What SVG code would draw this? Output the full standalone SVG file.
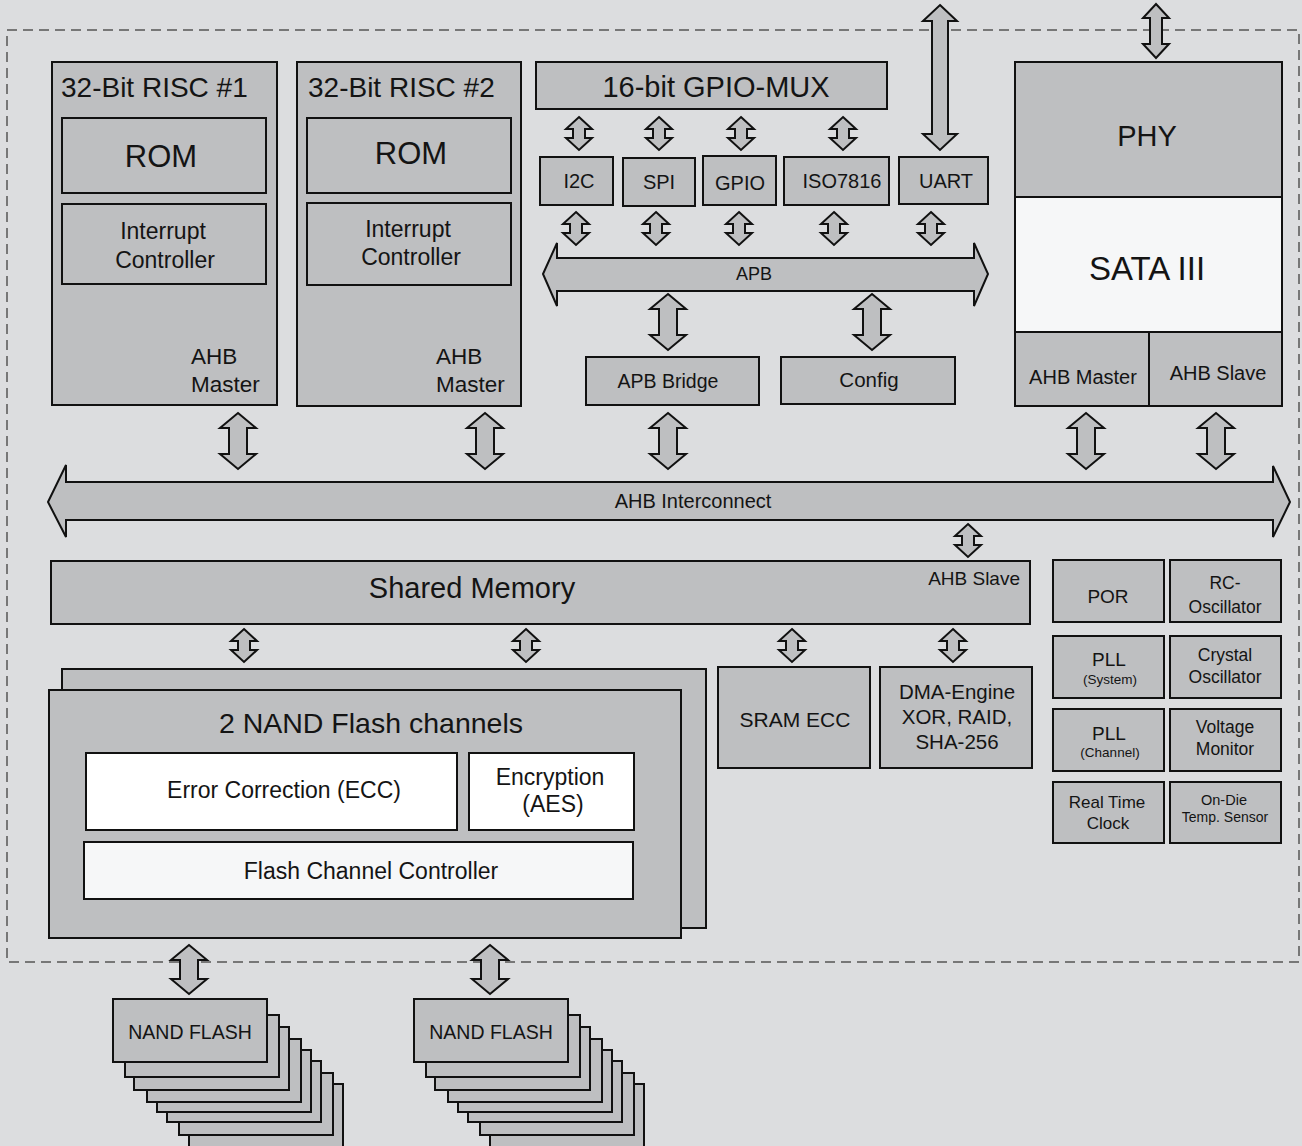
<svg xmlns="http://www.w3.org/2000/svg" width="1302" height="1146" viewBox="0 0 1302 1146">
<style>
.bg{fill:#dcdddf}
.b{fill:#bebfc1;stroke:#111;stroke-width:2}
.w{fill:#ffffff;stroke:#111;stroke-width:2}
.lw{fill:#f6f7f8;stroke:#111;stroke-width:2}
.ar{fill:#bebfc1;stroke:#111;stroke-width:2;stroke-linejoin:miter}
.dash{fill:none;stroke:#555;stroke-width:1.5;stroke-dasharray:10 6}
text{font-family:"Liberation Sans",Arial,sans-serif;fill:#141414}
.c{text-anchor:middle}
</style>
<rect class="bg" x="0" y="0" width="1302" height="1146"/>
<rect class="dash" x="7" y="30" width="1292" height="932"/>

<g id="risc1">
<rect class="b" x="52" y="62" width="225" height="343"/>
<text x="61" y="97" font-size="28">32-Bit RISC #1</text>
<rect class="b" x="62" y="118" width="204" height="75"/>
<text class="c" x="161" y="167" font-size="31">ROM</text>
<rect class="b" x="62" y="204" width="204" height="80"/>
<text class="c" x="163" y="239" font-size="23">Interrupt</text>
<text class="c" x="165" y="268" font-size="23">Controller</text>
<text x="191" y="364" font-size="22.5">AHB</text>
<text x="191" y="392" font-size="22.5">Master</text>
</g>

<g id="risc2">
<rect class="b" x="297" y="62" width="224" height="344"/>
<text x="308" y="97" font-size="28">32-Bit RISC #2</text>
<rect class="b" x="307" y="118" width="204" height="75"/>
<text class="c" x="411" y="164" font-size="31">ROM</text>
<rect class="b" x="307" y="203" width="204" height="82"/>
<text class="c" x="408" y="237" font-size="23">Interrupt</text>
<text class="c" x="411" y="265" font-size="23">Controller</text>
<text x="436" y="364" font-size="22.5">AHB</text>
<text x="436" y="392" font-size="22.5">Master</text>
</g>

<g id="gpiomux">
<rect class="b" x="536" y="62" width="351" height="47"/>
<text class="c" x="716" y="97" font-size="29">16-bit GPIO-MUX</text>
</g>

<g id="i2c"><rect class="b" x="540" y="157" width="73" height="48"/><text class="c" x="579" y="188" font-size="20">I2C</text></g>
<g id="spi"><rect class="b" x="623" y="158" width="72" height="48"/><text class="c" x="659" y="189" font-size="20">SPI</text></g>
<g id="gpio"><rect class="b" x="703" y="156" width="73" height="49"/><text class="c" x="740" y="190" font-size="20">GPIO</text></g>
<g id="iso7816"><rect class="b" x="784" y="157" width="105" height="48"/><text class="c" x="842" y="188" font-size="20">ISO7816</text></g>
<g id="uart"><rect class="b" x="899" y="157" width="89" height="47"/><text class="c" x="946" y="188" font-size="20">UART</text></g>

<g id="apbbridge"><rect class="b" x="586" y="357" width="173" height="48"/><text class="c" x="668" y="388" font-size="19.5">APB Bridge</text></g>
<g id="config"><rect class="b" x="781" y="357" width="174" height="47"/><text class="c" x="869" y="387" font-size="20.5">Config</text></g>

<g id="sata">
<rect class="b" x="1015" y="62" width="267" height="135"/>
<text class="c" x="1147" y="146" font-size="29">PHY</text>
<rect class="lw" x="1015" y="197" width="267" height="135"/>
<text class="c" x="1147" y="280" font-size="33">SATA III</text>
<rect class="b" x="1015" y="332" width="134" height="74"/>
<rect class="b" x="1149" y="332" width="133" height="74"/>
<text class="c" x="1083" y="384" font-size="20">AHB Master</text>
<text class="c" x="1218" y="380" font-size="20">AHB Slave</text>
</g>

<g id="sharedmem">
<rect class="b" x="51" y="561" width="979" height="63"/>
<text class="c" x="472" y="598" font-size="29">Shared Memory</text>
<text x="1020" y="585" font-size="19" text-anchor="end">AHB Slave</text>
</g>

<g id="nandchannels">
<rect class="b" x="62" y="669" width="644" height="259"/>
<rect class="b" x="49" y="690" width="632" height="248"/>
<text class="c" x="371" y="733" font-size="28.5">2 NAND Flash channels</text>
<rect class="w" x="86" y="753" width="371" height="77"/>
<text class="c" x="284" y="798" font-size="23">Error Correction (ECC)</text>
<rect class="w" x="469" y="753" width="165" height="77"/>
<text class="c" x="550" y="785" font-size="23">Encryption</text>
<text class="c" x="553" y="812" font-size="23">(AES)</text>
<rect class="lw" x="84" y="842" width="549" height="57"/>
<text class="c" x="371" y="879" font-size="23">Flash Channel Controller</text>
</g>

<g id="sramecc"><rect class="b" x="718" y="667" width="152" height="101"/><text class="c" x="795" y="727" font-size="21">SRAM ECC</text></g>
<g id="dma">
<rect class="b" x="880" y="667" width="152" height="101"/>
<text class="c" x="957" y="699" font-size="20.5">DMA-Engine</text>
<text class="c" x="957" y="724" font-size="20.5">XOR, RAID,</text>
<text class="c" x="957" y="749" font-size="20.5">SHA-256</text>
</g>

<g id="por"><rect class="b" x="1053" y="560" width="111" height="62"/><text class="c" x="1108" y="603" font-size="19">POR</text></g>
<g id="rcosc"><rect class="b" x="1170" y="560" width="111" height="62"/><text class="c" x="1225" y="589" font-size="17.5">RC-</text><text class="c" x="1225" y="613" font-size="17.5">Oscillator</text></g>
<g id="pllsys"><rect class="b" x="1053" y="636" width="111" height="62"/><text class="c" x="1109" y="666" font-size="19">PLL</text><text class="c" x="1110" y="684" font-size="13.5">(System)</text></g>
<g id="xosc"><rect class="b" x="1170" y="636" width="111" height="62"/><text class="c" x="1225" y="661" font-size="17.5">Crystal</text><text class="c" x="1225" y="683" font-size="17.5">Oscillator</text></g>
<g id="pllch"><rect class="b" x="1053" y="709" width="111" height="62"/><text class="c" x="1109" y="740" font-size="19">PLL</text><text class="c" x="1110" y="757" font-size="13.5">(Channel)</text></g>
<g id="vmon"><rect class="b" x="1170" y="709" width="111" height="62"/><text class="c" x="1225" y="733" font-size="17.5">Voltage</text><text class="c" x="1225" y="755" font-size="17.5">Monitor</text></g>
<g id="rtc"><rect class="b" x="1053" y="782" width="111" height="61"/><text class="c" x="1107" y="808" font-size="17">Real Time</text><text class="c" x="1108" y="829" font-size="17">Clock</text></g>
<g id="tempsensor"><rect class="b" x="1170" y="782" width="111" height="61"/><text class="c" x="1224" y="805" font-size="14.5">On-Die</text><text class="c" x="1225" y="822" font-size="14">Temp. Sensor</text></g>

<g id="nandflash1">
<rect class="b" x="189" y="1084" width="154" height="63"/>
<rect class="b" x="179" y="1073" width="154" height="62"/>
<rect class="b" x="167" y="1061" width="154" height="61"/>
<rect class="b" x="157" y="1050" width="154" height="62"/>
<rect class="b" x="147" y="1039" width="154" height="63"/>
<rect class="b" x="134" y="1027" width="155" height="63"/>
<rect class="b" x="125" y="1015" width="154" height="62"/>
<rect class="b" x="113" y="999" width="154" height="63"/>
<text class="c" x="190" y="1039" font-size="19.5">NAND FLASH</text>
</g>
<g id="nandflash2">
<rect class="b" x="490" y="1084" width="154" height="63"/>
<rect class="b" x="480" y="1073" width="154" height="62"/>
<rect class="b" x="468" y="1061" width="154" height="61"/>
<rect class="b" x="458" y="1050" width="154" height="62"/>
<rect class="b" x="448" y="1039" width="154" height="63"/>
<rect class="b" x="435" y="1027" width="155" height="63"/>
<rect class="b" x="426" y="1015" width="154" height="62"/>
<rect class="b" x="414" y="999" width="154" height="63"/>
<text class="c" x="491" y="1039" font-size="19.5">NAND FLASH</text>
</g>

<g id="connectors">
<!-- buses -->
<polygon class="ar" points="543,274 557,243 557,258 974,258 974,243 988,274 974,306 974,291 557,291 557,306"/>
<text class="c" x="754" y="280" font-size="18">APB</text>
<polygon class="ar" points="48,502 66,465 66,482 1273,482 1273,466 1290,502 1273,537 1273,520 66,520 66,537"/>
<text class="c" x="693" y="508" font-size="20">AHB Interconnect</text>
<!-- UART long arrow -->
<polygon class="ar" points="940,5 957,21 948,21 948,134 957,134 940,150 923,134 932,134 932,21 923,21"/>
<!-- small arrows: GPIO-MUX to peripherals -->
<polygon class="ar" points="579,117 592,129 585,129 585,138 592,138 579,150 566,138 573,138 573,129 566,129"/>
<polygon class="ar" points="659,117 672,129 665,129 665,138 672,138 659,150 646,138 653,138 653,129 646,129"/>
<polygon class="ar" points="741,117 754,129 747,129 747,138 754,138 741,150 728,138 735,138 735,129 728,129"/>
<polygon class="ar" points="843,117 856,129 849,129 849,138 856,138 843,150 830,138 837,138 837,129 830,129"/>
<!-- small arrows: peripherals to APB -->
<polygon class="ar" points="576,212 589,224 582,224 582,233 589,233 576,245 563,233 570,233 570,224 563,224"/>
<polygon class="ar" points="656,212 669,224 662,224 662,233 669,233 656,245 643,233 650,233 650,224 643,224"/>
<polygon class="ar" points="739,212 752,224 745,224 745,233 752,233 739,245 726,233 733,233 733,224 726,224"/>
<polygon class="ar" points="834,212 847,224 840,224 840,233 847,233 834,245 821,233 828,233 828,224 821,224"/>
<polygon class="ar" points="931,212 944,224 937,224 937,233 944,233 931,245 918,233 925,233 925,224 918,224"/>
<!-- PHY top -->
<polygon class="ar" points="1156,4 1169,18 1162,18 1162,44 1169,44 1156,58 1143,44 1150,44 1150,18 1143,18"/>
<!-- interconnect to shared memory -->
<polygon class="ar" points="968,524 981,536 974,536 974,545 981,545 968,557 955,545 962,545 962,536 955,536"/>
<!-- shared memory down -->
<polygon class="ar" points="244,629 257,641 250,641 250,650 257,650 244,662 231,650 238,650 238,641 231,641"/>
<polygon class="ar" points="526,629 539,641 532,641 532,650 539,650 526,662 513,650 520,650 520,641 513,641"/>
<polygon class="ar" points="792,629 805,641 798,641 798,650 805,650 792,662 779,650 786,650 786,641 779,641"/>
<polygon class="ar" points="953,629 966,641 959,641 959,650 966,650 953,662 940,650 947,650 947,641 940,641"/>
<!-- large arrows -->
<polygon class="ar" points="238,413 256,428 247,428 247,454 256,454 238,469 220,454 229,454 229,428 220,428"/>
<polygon class="ar" points="485,413 503,428 494,428 494,454 503,454 485,469 467,454 476,454 476,428 467,428"/>
<polygon class="ar" points="668,413 686,428 677,428 677,454 686,454 668,469 650,454 659,454 659,428 650,428"/>
<polygon class="ar" points="668,294 686,309 677,309 677,335 686,335 668,350 650,335 659,335 659,309 650,309"/>
<polygon class="ar" points="872,294 890,309 881,309 881,335 890,335 872,350 854,335 863,335 863,309 854,309"/>
<polygon class="ar" points="1086,413 1104,428 1095,428 1095,454 1104,454 1086,469 1068,454 1077,454 1077,428 1068,428"/>
<polygon class="ar" points="1216,413 1234,428 1225,428 1225,454 1234,454 1216,469 1198,454 1207,454 1207,428 1198,428"/>
<polygon class="ar" points="189,945 207,960 198,960 198,979 207,979 189,994 171,979 180,979 180,960 171,960"/>
<polygon class="ar" points="490,945 508,960 499,960 499,979 508,979 490,994 472,979 481,979 481,960 472,960"/>
</g>
</svg>
